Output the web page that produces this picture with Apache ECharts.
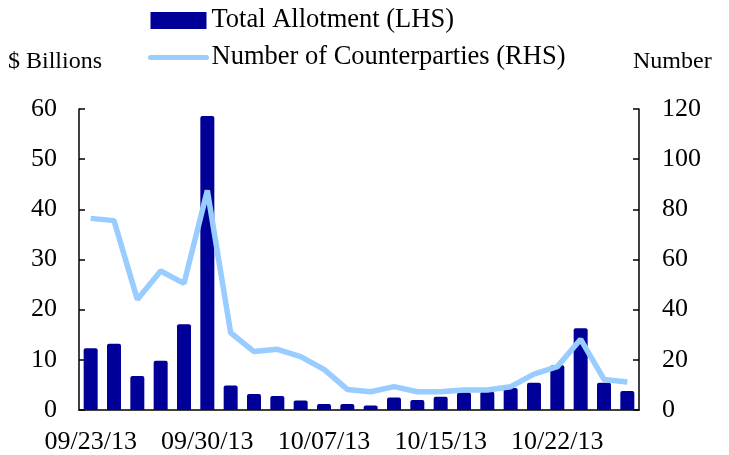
<!DOCTYPE html>
<html>
<head>
<meta charset="utf-8">
<script src="https://cdn.jsdelivr.net/npm/echarts@6/dist/echarts.min.js"></script>
<style>
  html, body { margin: 0; padding: 0; background: #fff; }
  #chart { width: 729px; height: 455px; }
</style>
</head>
<body>
<div id="chart"></div>
<script>
// business days, 09/23/13 - 10/25/13 (10/14 holiday)
const dates = [
  '09/23/13', '09/24/13', '09/25/13', '09/26/13', '09/27/13',
  '09/30/13', '10/01/13', '10/02/13', '10/03/13', '10/04/13',
  '10/07/13', '10/08/13', '10/09/13', '10/10/13', '10/11/13',
  '10/15/13', '10/16/13', '10/17/13', '10/18/13',
  '10/21/13', '10/22/13', '10/23/13', '10/24/13', '10/25/13'
]
// $ billions
const allotment = [
  12.3, 13.2, 6.8, 9.8, 17.1,
  58.6, 4.9, 3.2, 2.8, 1.9,
  1.2, 1.2, 0.9, 2.5, 2.0,
  2.65, 3.5, 3.65, 4.4,
  5.45, 8.9, 16.3, 5.45, 3.8
]
// number of counterparties
const counterparties = [
  76.4, 75.5, 44.1, 55.4, 50.5,
  87.5, 30.8, 23.3, 24.2, 21.3,
  16.2, 8.2, 7.3, 9.3, 7.3,
  7.3, 8.0, 8.0, 9.3,
  14.3, 17.3, 28.2, 12.2, 11.2
]
const labelIdx = [0, 5, 10, 15, 20]

const font = 'Liberation Serif, Times New Roman, serif'
const chart = echarts.init(document.getElementById('chart'))

chart.setOption({
  animation: false,
  textStyle: { fontFamily: font, color: '#000' },
  grid: { left: 79, right: 90, top: 109, bottom: 45 },
  legend: {
    orient: 'vertical',
    left: 143,
    top: 2,
    itemWidth: 56,
    itemHeight: 17,
    itemGap: 10,
    textStyle: { fontFamily: font, fontSize: 26.5, color: '#000' },
    data: [
      { name: 'Total Allotment (LHS)', icon: 'rect' },
      {
        name: 'Number of Counterparties (RHS)',
        itemStyle: { opacity: 0 },
        lineStyle: { color: '#99CCFF', width: 5, cap: 'round' }
      }
    ]
  },
  graphic: [
    { type: 'text', left: 8, top: 50, style: { text: '$ Billions', font: '24px ' + font, fill: '#000' } },
    { type: 'text', left: 633, top: 50, style: { text: 'Number', font: '24px ' + font, fill: '#000' } }
  ],
  xAxis: {
    type: 'category',
    data: dates,
    axisLine: { lineStyle: { color: '#000', width: 1.5 } },
    axisTick: {
      interval: (i) => labelIdx.includes(i),
      length: 7,
      lineStyle: { color: '#000', width: 1.5 }
    },
    axisLabel: {
      interval: (i) => labelIdx.includes(i),
      margin: 19,
      fontSize: 26,
      color: '#000',
      fontFamily: font
    }
  },
  yAxis: [
    {
      type: 'value', min: 0, max: 60, interval: 10,
      axisLine: { show: true, lineStyle: { color: '#000', width: 1.5 } },
      axisTick: { show: true, inside: true, length: 6, lineStyle: { color: '#000', width: 1.5 } },
      axisLabel: { margin: 22, fontSize: 26, color: '#000', fontFamily: font },
      splitLine: { show: false }
    },
    {
      type: 'value', min: 0, max: 120, interval: 20,
      axisLine: { show: true, lineStyle: { color: '#000', width: 1.5 } },
      axisTick: { show: true, inside: true, length: 6, lineStyle: { color: '#000', width: 1.5 } },
      axisLabel: { margin: 23, fontSize: 26, color: '#000', fontFamily: font },
      splitLine: { show: false }
    }
  ],
  series: [
    {
      name: 'Total Allotment (LHS)',
      type: 'bar',
      data: allotment,
      barWidth: '60%',
      itemStyle: { color: '#000099', borderRadius: [2, 2, 0, 0] }
    },
    {
      name: 'Number of Counterparties (RHS)',
      type: 'line',
      yAxisIndex: 1,
      data: counterparties,
      symbol: 'none',
      lineStyle: { color: '#99CCFF', width: 5.5 },
      itemStyle: { color: '#99CCFF' }
    }
  ]
})
</script>
</body>
</html>
